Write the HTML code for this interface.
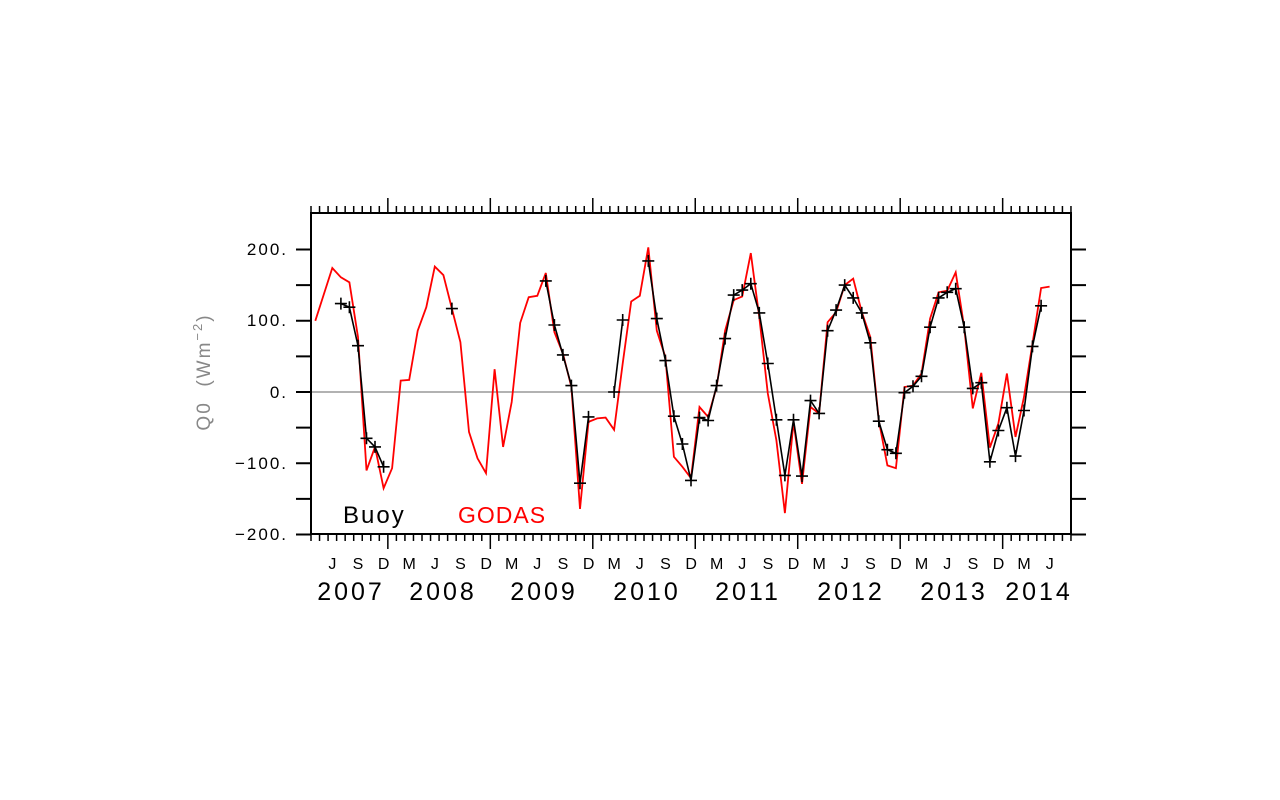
<!DOCTYPE html>
<html><head><meta charset="utf-8"><style>
html,body{margin:0;padding:0;background:#fff;}
svg{display:block;font-family:"Liberation Sans",sans-serif;}
</style></head><body>
<svg id="s" width="1280" height="800" viewBox="0 0 1280 800" xmlns="http://www.w3.org/2000/svg">
<rect width="1280" height="800" fill="#fff"/>
<line x1="311" y1="392" x2="1071" y2="392" stroke="#999" stroke-width="1.5"/>
<g id="g"></g>
<rect x="311" y="213" width="760" height="321" fill="none" stroke="#000" stroke-width="2"/>
<g font-size="17" text-anchor="end" fill="#000" letter-spacing="2">
<text x="288" y="255">200.</text>
<text x="288" y="326">100.</text>
<text x="288" y="398">0.</text>
<text x="288" y="469">−100.</text>
<text x="288" y="540">−200.</text>
</g>
<text transform="translate(210,372) rotate(-90)" font-size="19" fill="#888" text-anchor="middle" letter-spacing="2" xml:space="preserve">Q0  (Wm<tspan dy="-8" font-size="13">−2</tspan><tspan dy="8">)</tspan></text>
<g font-size="16" text-anchor="middle">
<text x="332.4" y="569">J</text><text x="358" y="569">S</text><text x="383.6" y="569">D</text><text x="409.2" y="569">M</text>
<text x="434.9" y="569">J</text><text x="460.5" y="569">S</text><text x="486.1" y="569">D</text><text x="511.7" y="569">M</text>
<text x="537.3" y="569">J</text><text x="563" y="569">S</text><text x="588.6" y="569">D</text><text x="614.2" y="569">M</text>
<text x="639.8" y="569">J</text><text x="665.4" y="569">S</text><text x="691.1" y="569">D</text><text x="716.7" y="569">M</text>
<text x="742.3" y="569">J</text><text x="767.9" y="569">S</text><text x="793.5" y="569">D</text><text x="819.2" y="569">M</text>
<text x="844.8" y="569">J</text><text x="870.4" y="569">S</text><text x="896" y="569">D</text><text x="921.6" y="569">M</text>
<text x="947.3" y="569">J</text><text x="972.9" y="569">S</text><text x="998.5" y="569">D</text><text x="1024.1" y="569">M</text>
<text x="1049.7" y="569">J</text>
</g>
<g font-size="25" text-anchor="middle" letter-spacing="3">
<text x="351" y="600">2007</text><text x="443" y="600">2008</text><text x="544" y="600">2009</text>
<text x="647" y="600">2010</text><text x="748" y="600">2011</text><text x="851" y="600">2012</text>
<text x="954" y="600">2013</text><text x="1039" y="600">2014</text>
</g>
<text x="343" y="523" font-size="24" fill="#000" letter-spacing="2">Buoy</text>
<text x="458" y="523" font-size="23" fill="#f00" letter-spacing="1">GODAS</text>
</svg>
<script>
(function(){
var g=document.getElementById('g'),h='';
function X(i){return 311+(i+0.5)*8.539;}
function Y(v){return 392-v*0.7125;}
for(var m=0;m<=89;m++){var x=311+m*8.539;var maj=((m-9)%12===0);var L=maj?15:7;
h+='<line x1="'+x+'" y1="213" x2="'+x+'" y2="'+(213-L)+'" stroke="#000" stroke-width="1.5"/>';
h+='<line x1="'+x+'" y1="534" x2="'+x+'" y2="'+(534+L)+'" stroke="#000" stroke-width="1.5"/>';}
for(var v=-200;v<=200;v+=50){var y=Y(v);
h+='<line x1="296" y1="'+y+'" x2="311" y2="'+y+'" stroke="#000" stroke-width="2"/>';
h+='<line x1="1071" y1="'+y+'" x2="1086" y2="'+y+'" stroke="#000" stroke-width="2"/>';}
var red=[100,137,174,161,154,77,-110,-77,-135,-107,16,17,86,119,176,164,117,70,-56,-93,-114,32,-77,-14,97,133,135,167,84,54,7,-164,-42,-37,-36,-53,40,127,135,203,86,49,-91,-105,-121,-21,-35,7,86,129,134,195,105,-2,-68,-170,-42,-129,-21,-30,98,112,150,159,112,77,-40,-103,-107,7,9,26,103,140,142,168,91,-23,27,-78,-44,26,-63,-7,68,146,148];
var p='';for(var i=0;i<red.length;i++)p+=(i?'L':'M')+X(i).toFixed(1)+','+Y(red[i]).toFixed(1);
h+='<path d="'+p+'" fill="none" stroke="#f00" stroke-width="1.8"/>';
var segs=[[3,[124,119,65,-65,-77,-105]],[16,[117]],[27,[156,94,52,9,-128,-35]],[35,[0,101]],
[39,[184,103,44,-34,-73,-124,-36,-40,9,75,136,143,152,111,40,-39,-117,-39,-118,-12,-30,86,115,150,132,111,69,-41,-81,-86,-1,8,22,91,132,140,145,91,5,13,-98,-54,-22,-90,-26,64,121]]];
segs.forEach(function(s){var d='',c='';s[1].forEach(function(v,k){var x=X(s[0]+k),y=Y(v);d+=(k?'L':'M')+x.toFixed(1)+','+y.toFixed(1);
c+='M'+(x-6).toFixed(1)+','+y.toFixed(1)+'h12M'+x.toFixed(1)+','+(y-6).toFixed(1)+'v12';});
if(s[1].length>1)h+='<path d="'+d+'" fill="none" stroke="#000" stroke-width="1.6"/>';
h+='<path d="'+c+'" fill="none" stroke="#000" stroke-width="1.6"/>';});
g.innerHTML=h;
})();
</script>
</body></html>
